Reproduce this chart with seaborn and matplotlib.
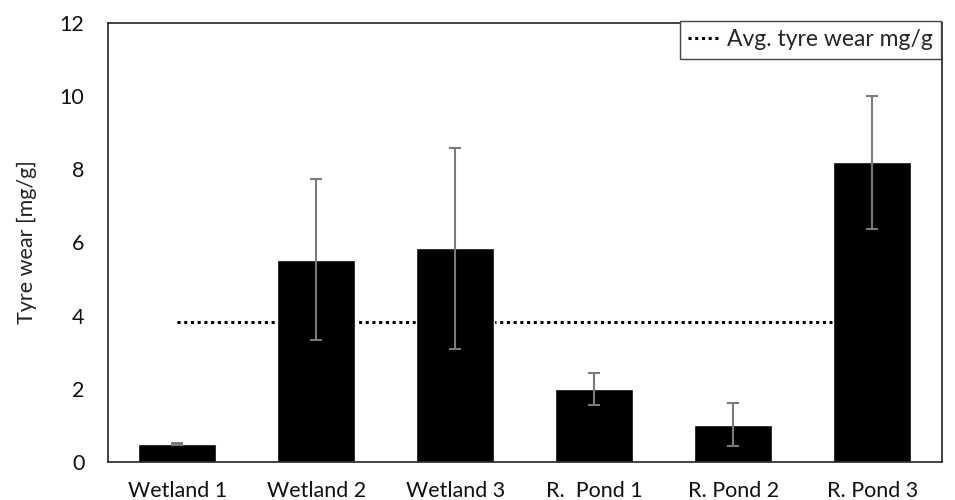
import matplotlib
matplotlib.use("Agg")
import matplotlib.pyplot as plt
import seaborn as sns
import pandas as pd
import numpy as np

categories = ["Wetland 1", "Wetland 2", "Wetland 3", "R.  Pond 1", "R. Pond 2", "R. Pond 3"]
values = [0.49, 5.53, 5.84, 1.99, 1.02, 8.19]
errors = [0.02, 2.20, 2.75, 0.44, 0.59, 1.81]
avg_value = 3.83
avg_label = "Avg. tyre wear mg/g"

sns.set_theme(style="white")
plt.rcParams["font.family"] = ["Lato", "DejaVu Sans"]

df = pd.DataFrame({"site": categories, "wear": values, "err": errors})

fig = plt.figure(figsize=(9.55, 5.0), dpi=100)
ax = fig.add_axes([0.113, 0.076, 0.873, 0.878])

sns.lineplot(x=df["site"], y=[avg_value] * len(categories), ax=ax, color="black",
             linestyle=(0, (1, 1.2)), linewidth=2.2, zorder=1, label=avg_label,
             sort=False)
sns.barplot(data=df, x="site", y="wear", color="black", width=0.56, ax=ax,
            saturation=1, zorder=2, errorbar=None)
xpos = np.arange(len(categories))
ax.errorbar(xpos, df["wear"], yerr=df["err"], fmt="none", ecolor="#7a7a7a",
            elinewidth=1.5, capsize=4, capthick=1.5, zorder=3)

ax.set_ylim(0, 12)
ax.set_yticks(range(0, 13, 2))
ax.set_xlim(-0.5, len(categories) - 0.5)
ax.set_xlabel("")
ax.set_ylabel("Tyre wear [mg/g]", fontsize=15.5, labelpad=16, color="#222222")
ax.tick_params(axis="y", labelsize=15.5, length=0, pad=17)
ax.tick_params(axis="x", labelsize=15.5, length=0, pad=14)
for lab in ax.get_xticklabels() + ax.get_yticklabels():
    lab.set_color("#111111")
for s in ax.spines.values():
    s.set_visible(True)
    s.set_color("#222222")
    s.set_linewidth(1.2)

ax.get_legend().remove()
handles, labels = ax.get_legend_handles_labels()
leg = fig.legend(handles, labels, loc="upper right", bbox_to_anchor=(0.997, 0.98),
                 fontsize=16.5, frameon=True, fancybox=False, handlelength=1.3,
                 handletextpad=0.4, borderpad=0.35, framealpha=1)
leg.get_frame().set_edgecolor("#444444")
leg.get_frame().set_linewidth(1.0)

fig.savefig("out.png", dpi=100)
